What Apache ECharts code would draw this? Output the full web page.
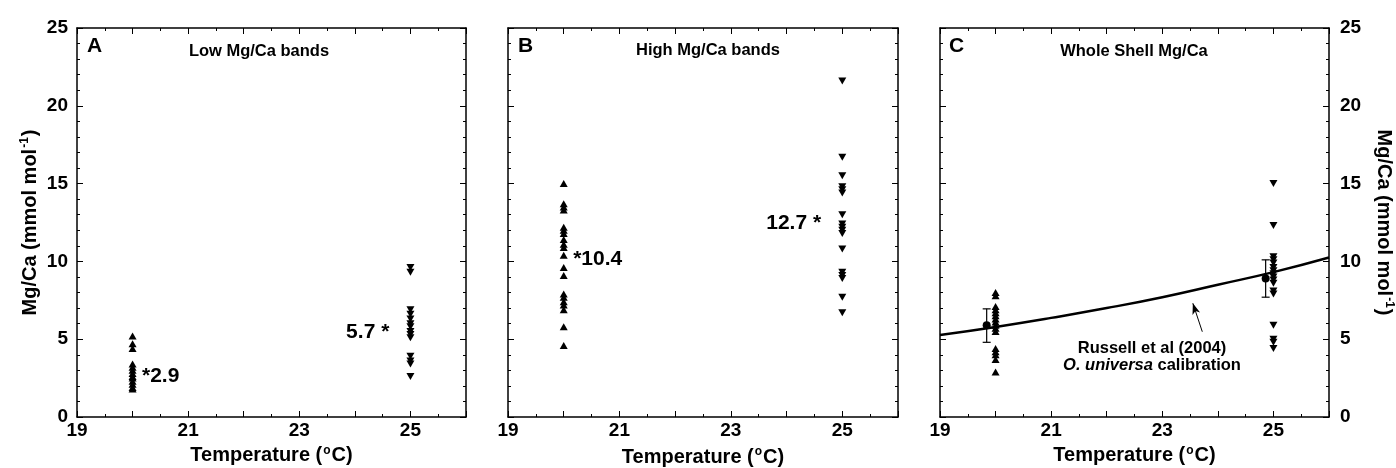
<!DOCTYPE html>
<html>
<head>
<meta charset="utf-8">
<script src="https://cdn.jsdelivr.net/npm/echarts@6/dist/echarts.min.js"></script>
<style>
html,body{margin:0;padding:0;background:#fff;}
#chart{width:1396px;height:468px;}
</style>
</head>
<body>
<div id="chart"></div>
<script>
// growth temperatures
var tCold = 20;
var tWarm = 25;

// A: low Mg/Ca bands
var lowCold = [5.2, 4.7, 4.4, 3.4, 3.2, 3.0, 2.8, 2.6, 2.5, 2.3, 2.1, 1.9, 1.8];
var lowWarm = [9.6, 9.3, 6.9, 6.6, 6.3, 6.0, 5.8, 5.5, 5.3, 5.1, 3.9, 3.6, 3.4, 2.6];
var lowMeans = [2.9, 5.7];

// B: high Mg/Ca bands
var highCold = [15.0, 13.7, 13.5, 13.3, 12.2, 12.0, 11.8, 11.4, 11.1, 10.9, 10.4, 9.6, 9.1, 7.9, 7.7, 7.4, 7.2, 6.9, 5.8, 4.6];
var highWarm = [21.6, 16.7, 15.5, 14.8, 14.6, 14.4, 13.0, 12.4, 12.2, 12.0, 11.8, 10.8, 9.3, 9.1, 8.9, 7.7, 6.7];
var highMeans = [10.4, 12.7];

// C: whole shell
var wholeCold = [8.0, 7.8, 7.1, 6.9, 6.7, 6.5, 6.3, 6.1, 5.9, 5.7, 5.5, 4.4, 4.2, 4.0, 3.7, 2.9];
var wholeWarm = [15.0, 12.3, 10.3, 10.1, 9.9, 9.6, 9.4, 9.2, 9.0, 8.8, 8.6, 8.1, 7.9, 5.9, 5.0, 4.8, 4.4];
var wholeMeanT = [19.84, 24.86];
var wholeMean = [5.9, 8.9];
var wholeErrLow = [4.8, 7.7];
var wholeErrHigh = [6.95, 10.1];

// Russell et al (2004) calibration curve
var calibT = [19, 20, 21, 22, 23, 24, 25, 26];
var calibMgCa = [5.27, 5.79, 6.37, 7.0, 7.7, 8.5, 9.31, 10.25];

var xTickLabels = ['19', '21', '23', '25'];
var yTickLabels = ['0', '5', '10', '15', '20', '25'];

var FONT = '"Liberation Sans", Arial, Helvetica, sans-serif';

var grids = [
	{left: 77, top: 28, width: 389, height: 389, outerBoundsMode: 'none'},
	{left: 508, top: 28, width: 390, height: 389, outerBoundsMode: 'none'},
	{left: 940, top: 28, width: 389, height: 389, outerBoundsMode: 'none'}
];

var lineStyle = {color: '#000', width: 1.5};
var supRich = {
	s: {fontSize: 12, fontWeight: 'bold', fontFamily: FONT, color: '#000', verticalAlign: 'top', lineHeight: 10, padding: [0, 1, 0, 1]}
};

function xAxes(g, gap){
	var base = {
		gridIndex: g, type: 'value', min: 19, max: 26, interval: 1,
		axisLine: {onZero: false, lineStyle: lineStyle},
		axisTick: {inside: true, length: 6, lineStyle: {color: '#000', width: 1}},
		minorTick: {show: true, splitNumber: 2, length: 3, lineStyle: {color: '#000', width: 1}},
		splitLine: {show: false},
		minorSplitLine: {show: false}
	};
	var bottom = Object.assign({}, base, {
		position: 'bottom',
		axisLabel: {
			color: '#000', fontSize: 19, fontWeight: 'bold', fontFamily: FONT, margin: 4,
			showMaxLabel: false,
			formatter: function(v){
				var s = String(v);
				return xTickLabels.indexOf(s) >= 0 ? s : '';
			}
		},
		name: 'Temperature ({s|o}C)',
		nameLocation: 'middle',
		nameGap: gap,
		nameTextStyle: {color: '#000', fontSize: 20, fontWeight: 'bold', fontFamily: FONT, lineHeight: 22, rich: supRich}
	});
	var top = Object.assign({}, base, {position: 'top', axisLabel: {show: false}});
	return [bottom, top];
}

function yAxes(g, labelSide){
	var base = {
		gridIndex: g, type: 'value', min: 0, max: 25, interval: 5,
		axisLine: {onZero: false, lineStyle: lineStyle},
		axisTick: {inside: true, length: 6, lineStyle: {color: '#000', width: 1}},
		minorTick: {show: true, splitNumber: 5, length: 3, lineStyle: {color: '#000', width: 1}},
		splitLine: {show: false},
		minorSplitLine: {show: false}
	};
	var mainSide = labelSide || 'left';
	var main = Object.assign({}, base, {position: mainSide});
	if(labelSide){
		main.axisLabel = {
			color: '#000', fontSize: 19, fontWeight: 'bold', fontFamily: FONT,
			margin: labelSide === 'left' ? 9 : 11,
			formatter: function(v){
				var s = String(v);
				return yTickLabels.indexOf(s) >= 0 ? s : '';
			}
		};
		main.name = 'Mg/Ca (mmol mol{s|-1})';
		main.nameLocation = 'middle';
		main.nameRotate = labelSide === 'left' ? 90 : -90;
		main.nameGap = labelSide === 'left' ? 36 : 44;
		main.nameTextStyle = {color: '#000', fontSize: 20, fontWeight: 'bold', fontFamily: FONT, lineHeight: 22, rich: supRich};
	}else{
		main.axisLabel = {show: false};
	}
	var mirror = Object.assign({}, base, {
		position: mainSide === 'left' ? 'right' : 'left',
		axisLabel: {show: false}
	});
	return [main, mirror];
}

function pts(t, arr){
	return arr.map(function(v){ return [t, v]; });
}

function triSeries(g, t, arr, down){
	return {
		type: 'scatter', xAxisIndex: g * 2, yAxisIndex: g * 2,
		data: pts(t, arr),
		symbol: 'triangle', symbolSize: [8, 7], symbolRotate: down ? 180 : 0,
		itemStyle: {color: '#000', opacity: 1}, silent: true, z: 3
	};
}

var noteLabel = {color: '#000', opacity: 1, fontSize: 21, fontWeight: 'bold', fontFamily: FONT};

function noteSeries(g, items){
	return {
		type: 'scatter', xAxisIndex: g * 2, yAxisIndex: g * 2,
		symbolSize: 0, silent: true, z: 5,
		itemStyle: {opacity: 1},
		data: items.map(function(it){
			return {
				value: it.value,
				label: Object.assign({show: true, formatter: it.text, position: it.pos, distance: 0, offset: it.offset || [0, 4]}, noteLabel)
			};
		})
	};
}

var series = [
	triSeries(0, tCold, lowCold, false),
	triSeries(0, tWarm, lowWarm, true),
	noteSeries(0, [
		{value: [20.17, lowMeans[0]], text: '*' + lowMeans[0].toFixed(1), pos: 'right'},
		{value: [24.62, lowMeans[1]], text: lowMeans[1].toFixed(1) + ' *', pos: 'left'}
	]),
	triSeries(1, tCold, highCold, false),
	triSeries(1, tWarm, highWarm, true),
	noteSeries(1, [
		{value: [20.17, highMeans[0]], text: '*' + highMeans[0].toFixed(1), pos: 'right'},
		{value: [24.62, highMeans[1]], text: highMeans[1].toFixed(1) + ' *', pos: 'left'}
	]),
	{
		type: 'line', xAxisIndex: 4, yAxisIndex: 4,
		data: calibT.map(function(t, i){ return [t, calibMgCa[i]]; }),
		smooth: true, showSymbol: false, silent: true,
		lineStyle: {color: '#000', width: 2.5}, z: 2,
		markLine: {
			silent: true, animation: false,
			lineStyle: {color: '#000', width: 1, type: 'solid'},
			label: {show: false},
			data: [[
				{coord: [23.72, 5.48], symbol: 'none'},
				{coord: [23.55, 7.31], symbol: 'arrow', symbolSize: [6, 11]}
			]]
		}
	},
	triSeries(2, tCold, wholeCold, false),
	triSeries(2, tWarm, wholeWarm, true),
	{
		type: 'custom', xAxisIndex: 4, yAxisIndex: 4, silent: true, z: 4,
		data: wholeMeanT.map(function(t, i){ return [t, wholeErrLow[i], wholeErrHigh[i]]; }),
		encode: {x: 0, y: [1, 2]},
		renderItem: function(params, api){
			var lo = api.coord([api.value(0), api.value(1)]);
			var hi = api.coord([api.value(0), api.value(2)]);
			var w = 4;
			var st = {stroke: '#000', lineWidth: 1.2};
			return {type: 'group', children: [
				{type: 'line', shape: {x1: lo[0], y1: lo[1], x2: hi[0], y2: hi[1]}, style: st},
				{type: 'line', shape: {x1: lo[0] - w, y1: lo[1], x2: lo[0] + w, y2: lo[1]}, style: st},
				{type: 'line', shape: {x1: hi[0] - w, y1: hi[1], x2: hi[0] + w, y2: hi[1]}, style: st}
			]};
		}
	},
	{
		type: 'scatter', xAxisIndex: 4, yAxisIndex: 4, silent: true, z: 5,
		data: wholeMeanT.map(function(t, i){ return [t, wholeMean[i]]; }),
		symbol: 'circle', symbolSize: 8, itemStyle: {color: '#000', opacity: 1}
	}
];

function txt(x, y, s, size, extra){
	return {
		type: 'text', x: x, y: y, silent: true, z: 10,
		style: Object.assign({
			text: s, fill: '#000', fontSize: size, fontWeight: 'bold', fontFamily: FONT,
			align: 'center', verticalAlign: 'middle'
		}, extra || {})
	};
}

var option = {
	animation: false,
	backgroundColor: '#fff',
	grid: grids,
	xAxis: [].concat(xAxes(0, 26), xAxes(1, 29), xAxes(2, 26)),
	yAxis: [].concat(yAxes(0, 'left'), yAxes(1, null), yAxes(2, 'right')),
	series: series,
	graphic: [
		txt(87, 46, 'A', 21, {align: 'left'}),
		txt(518, 46, 'B', 21, {align: 'left'}),
		txt(949, 46, 'C', 21, {align: 'left'}),
		txt(259, 51, 'Low Mg/Ca bands', 16.5),
		txt(708, 50, 'High Mg/Ca bands', 16.5),
		txt(1134, 51, 'Whole Shell Mg/Ca', 16.5),
		txt(1152, 348, 'Russell et al (2004)', 16.5),
		txt(1152, 365, '{i|O. universa} calibration', 16.5, {
			rich: {i: {fontStyle: 'italic', fontWeight: 'bold', fontSize: 16.5, fontFamily: FONT, fill: '#000'}}
		})
	]
};

var myChart = echarts.init(document.getElementById('chart'));
myChart.setOption(option);
</script>
</body>
</html>
